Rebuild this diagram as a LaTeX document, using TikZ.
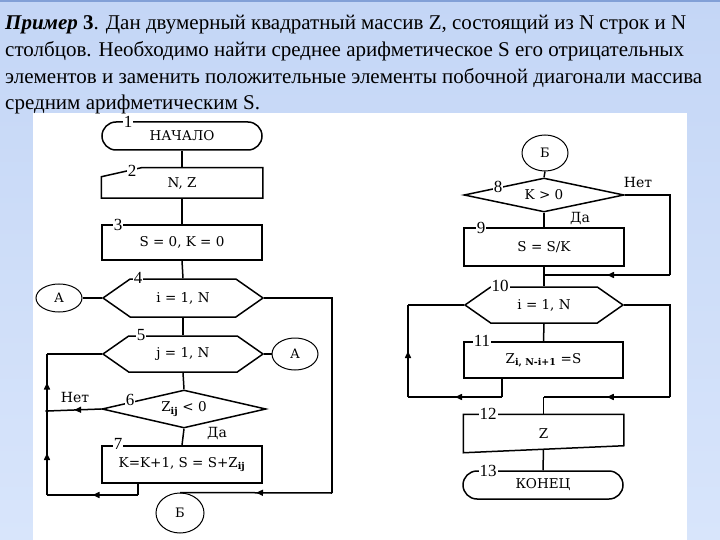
\documentclass[tikz,border=0pt]{standalone}
\usepackage{fontspec}
\setmainfont{Liberation Serif}
\newfontfamily\flowfont{DejaVu Serif}
\usepackage{tikz}
\usetikzlibrary{calc}
\usetikzlibrary{shapes.geometric}
\usetikzlibrary{shapes.misc}
\usetikzlibrary{shapes.symbols}
\usetikzlibrary{decorations.markings}
\usetikzlibrary{arrows.meta}
\definecolor{bgtop}{RGB}{196,214,246}
\definecolor{bgbot}{RGB}{216,229,251}
\definecolor{bgline}{RGB}{130,160,215}

\begin{document}
\begin{tikzpicture}[x=1pt,y=-1pt]
% % Flowchart style
 \tikzset{
 	ln/.style={line width=1.5pt},
 	term/.style={rounded rectangle, draw, ln, minimum width=160pt, minimum height=28pt, inner sep=0pt, font=\flowfont\fontsize{13.5}{15}\selectfont},
 	blk/.style={rectangle, draw, ln, minimum width=160pt, minimum height=36pt, inner sep=0pt, font=\flowfont\fontsize{13.5}{15}\selectfont},
 	hexa/.style={signal, signal to=east and west, signal pointer angle=70, draw, ln, minimum width=160pt, minimum height=38pt, inner sep=0pt, font=\flowfont\fontsize{13.5}{15}\selectfont},
 	cond/.style={diamond, shape aspect=4, draw, ln, minimum width=164pt, minimum height=38pt, inner sep=0pt, font=\flowfont\fontsize{13.5}{15}\selectfont},
 	conn/.style={ellipse, draw, line width=1pt, minimum width=46pt, minimum height=28pt, inner sep=0pt, font=\flowfont\fontsize{13}{14}\selectfont},
 	num/.style={fill=white, inner sep=1pt, font=\fontsize{17}{17}\selectfont},
 	txt/.style={inner sep=0pt, font=\flowfont\fontsize{14}{14}\selectfont},
 	title/.style={anchor=base west, inner sep=0pt, font=\fontsize{21}{22}\selectfont},
 	midarrow/.style={postaction={decorate}, decoration={markings, mark=at position 0.5 with {\arrow{Triangle[length=7pt,width=6pt]}}}}
 }
\useasboundingbox (0,0) rectangle (720,540);
% background and sheet
 \fill[top color=bgtop, bottom color=bgbot] (0,0) rectangle (720,540);
 \draw[bgline, line width=2pt] (0,1) -- (720,1);
 \fill[white] (33,113) rectangle (687,540);
% task text
 \node[title] (t1) at (5,30) {\textbf{\textit{Пример}} \textbf{3}. Дан двумерный квадратный массив Z, состоящий из N строк и N};
 \node[title] (t2) at (5,57) {столбцов. Необходимо найти среднее арифметическое S его отрицательных};
 \node[title] (t3) at (5,84) {элементов и заменить положительные элементы побочной диагонали массива};
 \node[title] (t4) at (5,110) {средним арифметическим S.};
% % Left chart
 \node[term] (START) at (182,136) {НАЧАЛО};
 \node[blk, draw=none, minimum height=29pt] (INPUT) at (182,183) {N, Z};
 \draw[ln] (INPUT.south west) -- ($(INPUT.north west)+(0,9)$) -- ($(INPUT.north west)+(40,0)$) -- (INPUT.north east) -- (INPUT.south east) -- cycle;
 \node[blk, minimum height=35pt] (INIT) at (182,242.5) {S = 0, K = 0};
 \node[hexa] (LOOPI) at (183,298) {i = 1, N};
 \node[hexa, minimum height=36pt] (LOOPJ) at (183,354) {j = 1, N};
 \node[cond] (COND) at (184,409) {Z\textsubscript{\textbf{ij}} < 0};
 \node[blk, minimum height=37pt] (CALC) at (182,464.5) {K=K+1, S = S+Z\textsubscript{\textbf{ij}}};
 \node[conn] (A1) at (59,298) {А};
 \node[conn, minimum height=32pt] (A2) at (295,354) {А};
 \node[conn, minimum width=48pt, minimum height=40pt] (B1) at (180,513) {Б};
 % loop lines
 \coordinate (LTOP) at (47,354);
 \coordinate (LJOIN) at (47,411);
 \coordinate (LBOT) at (47,495);
 \coordinate (CBOT) at (138,495);
 \coordinate (RTOP) at (332,298);
 \coordinate (RBOT) at (332,493);
 \draw[ln] (START.south) -- (INPUT.north);
 \draw[ln] (INPUT.south) -- (INIT.north);
 \draw[ln] (INIT.south) -- (LOOPI.north);
 \draw[ln] (LOOPI.south) -- (LOOPJ.north);
 \draw[ln] (LOOPJ.south) -- (COND.north);
 \draw[ln] (COND.south) -- (CALC.north);
 \draw[ln] (A1.east) -- (LOOPI.west);
 \draw[ln] (LOOPJ.east) -- (A2.west);
 \draw[ln] (LOOPJ.west) -- (LTOP);
 \draw[ln, midarrow] (LJOIN) -- (LTOP);
 \draw[ln, midarrow] (LBOT) -- (LJOIN);
 \draw[ln, midarrow] (COND.west) -- (LJOIN);
 \draw[ln] (CALC.south -| CBOT) -- (CBOT);
 \draw[ln, midarrow] (CBOT) -- (LBOT);
 \fill (LJOIN) circle (1.8pt);
 \draw[ln] (LOOPI.east) -- (RTOP) -- (RBOT);
 \draw[ln, midarrow] (RBOT) -- (B1.north);
% % Right chart
 \node[conn, minimum height=36pt] (B2) at (545,153) {Б};
 \node[cond, minimum width=160pt, minimum height=34pt] (TEST) at (544,195) {K > 0};
 \node[blk, minimum height=38pt] (DIV) at (544,247) {S = S/K};
 \node[hexa, minimum width=158pt, minimum height=36pt] (LOOPK) at (544,305) {i = 1, N};
 \node[blk, minimum width=159pt, minimum height=36pt] (SET) at (543.5,360) {Z\textsubscript{\textbf{i, N-i+1}} =S};
 \node[blk, draw=none, minimum width=159pt, minimum height=37pt] (OUT) at (543.5,433.5) {Z};
 \draw[ln] (OUT.south west) -- (OUT.north west) -- (OUT.north east) -- ($(OUT.south east)+(0,-7)$) -- cycle;
 \node[term] (END) at (543,485) {КОНЕЦ};
 \coordinate (TJOIN) at (544,275);
 \coordinate (TR1) at (670,195);
 \coordinate (TR2) at (670,275);
 \coordinate (KL1) at (408,305);
 \coordinate (KL2) at (408,397);
 \coordinate (SBOT) at (502,397);
 \coordinate (KR1) at (670,305);
 \coordinate (KR2) at (670,397);
 \coordinate (OJOIN) at (543.5,397);
 \draw[ln] (B2.south) -- (TEST.north);
 \draw[ln] (TEST.south) -- (DIV.north);
 \draw[ln] (DIV.south) -- (LOOPK.north);
 \draw[ln] (TEST.east) -- (TR1) -- (TR2);
 \draw[ln, midarrow] (TR2) -- (TJOIN);
 \draw[ln] (LOOPK.south) -- (SET.north);
 \draw[ln] (LOOPK.west) -- (KL1);
 \draw[ln, midarrow] (KL2) -- (KL1);
 \draw[ln] (SET.south -| SBOT) -- (SBOT);
 \draw[ln, midarrow] (SBOT) -- (KL2);
 \draw[ln] (LOOPK.east) -- (KR1) -- (KR2);
 \draw[ln, midarrow] (KR2) -- (OJOIN);
 \draw[ln] (OJOIN) -- (OUT.north);
 \draw[ln] ($(OUT.south)+(0,-3.5)$) -- (END.north);
% block numbers and branch labels
 \node[num] (n1) at (128,122) {1};
 \node[num] (n2) at (132,171) {2};
 \node[num] (n3) at (118,225) {3};
 \node[num] (n4) at (138,278) {4};
 \node[num] (n5) at (141,335) {5};
 \node[num] (n6) at (130,400) {6};
 \node[num] (n7) at (118,444) {7};
 \node[num] (n8) at (498,187) {8};
 \node[num] (n9) at (481,228) {9};
 \node[num] (n10) at (500,286) {10};
 \node[num] (n11) at (482,341) {11};
 \node[num] (n12) at (488,414) {12};
 \node[num] (n13) at (488,471) {13};
 \node[txt] (no1) at (75,397) {Нет};
 \node[txt] (yes1) at (217,433) {Да};
 \node[txt] (no2) at (638,182) {Нет};
 \node[txt] (yes2) at (580,218) {Да};
\end{tikzpicture}
\end{document}
